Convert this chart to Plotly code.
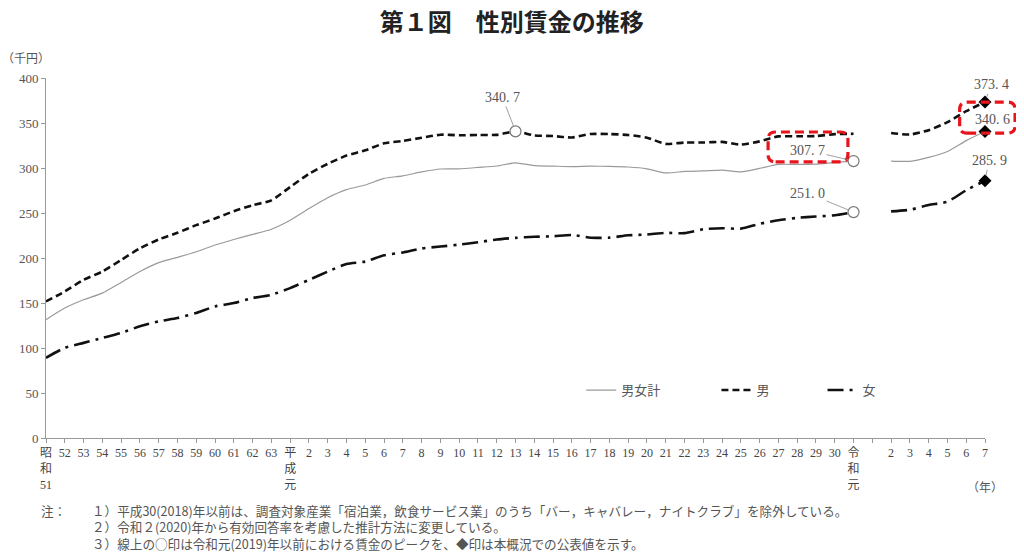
import plotly.graph_objects as go

# x-axis slots: 昭和51 .. 令和7 (one empty slot between 令和元 and 令和2)
labels = (["昭<br>和<br>51"] + [str(n) for n in range(52, 64)]
          + ["平<br>成<br>元"] + [str(n) for n in range(2, 31)]
          + ["令<br>和<br>元", ""] + [str(n) for n in range(2, 8)])

# 男女計 (thousand yen)
total = [131.5, 144.4, 153.6, 161.0, 172.7, 184.9, 194.8, 200.7, 207.0, 214.4,
         220.6, 226.2, 232.0, 242.0, 254.9, 267.0, 276.0, 281.1, 288.4, 291.3,
         295.6, 298.9, 299.1, 300.6, 302.2, 305.8, 302.6, 302.1, 301.6, 302.0,
         301.8, 301.1, 299.1, 294.5, 296.2, 296.8, 297.7, 295.7, 299.6, 304.0,
         304.0, 304.3, 306.2, 307.7, None, 307.7, 307.4, 311.8, 318.3, 330.4,
         340.6]
# 男
male = [151.7, 162.8, 175.7, 184.9, 197.8, 210.7, 220.6, 228.0, 236.5, 243.8,
        252.0, 258.6, 264.1, 278.8, 293.6, 304.6, 313.8, 319.6, 327.4, 330.0,
        333.6, 337.0, 336.4, 336.7, 336.8, 340.7, 336.2, 335.5, 333.9, 337.8,
        337.7, 336.7, 333.7, 326.8, 328.3, 328.3, 329.0, 326.0, 329.6, 335.1,
        335.2, 335.5, 337.6, 338.0, None, 338.8, 337.2, 342.0, 350.9, 363.1,
        373.4]
# 女
female = [89.1, 100.2, 105.7, 111.2, 116.8, 124.1, 129.6, 133.3, 138.9, 146.2,
          149.9, 155.5, 159.1, 166.5, 175.7, 184.9, 193.4, 196.0, 203.0, 206.2,
          210.6, 212.7, 214.9, 217.5, 220.6, 222.4, 223.6, 224.2, 225.6, 222.5,
          222.6, 225.2, 226.1, 228.0, 227.6, 231.9, 233.1, 232.6, 238.0, 242.0,
          244.6, 246.1, 247.5, 251.0, None, 251.8, 253.6, 258.9, 262.6, 275.3,
          285.9]

xs = list(range(len(labels)))

# peaks up to 令和元 (circles) and latest values (diamonds)
peak_x = [25, 43, 43]
peak_y = [male[25], total[43], female[43]]
latest_x = [50, 50, 50]
latest_y = [male[50], total[50], female[50]]

SERIF = "Liberation Serif, Noto Sans CJK JP, serif"
JP = "Noto Sans CJK JP, sans-serif"
GRAY = "#555555"

fig = go.Figure()
fig.add_trace(go.Scatter(x=xs, y=total, name="男女計", mode="lines", legend="legend",
                         line=dict(color="#9a9a9a", width=1.2, shape="spline", smoothing=0.6)))
fig.add_trace(go.Scatter(x=xs, y=male, name="男", mode="lines", legend="legend2",
                         line=dict(color="#111111", width=2.6, dash="7px,4px", shape="spline", smoothing=0.6)))
fig.add_trace(go.Scatter(x=xs, y=female, name="女", mode="lines", legend="legend3",
                         line=dict(color="#111111", width=2.6, dash="16px,6px,3px,6px", shape="spline", smoothing=0.6)))
fig.add_trace(go.Scatter(x=peak_x, y=peak_y, mode="markers", showlegend=False, cliponaxis=False,
                         marker=dict(symbol="circle", size=11, color="white",
                                     line=dict(color="#777777", width=1.2))))
fig.add_trace(go.Scatter(x=latest_x, y=latest_y, mode="markers", showlegend=False, cliponaxis=False,
                         marker=dict(symbol="diamond", size=10, color="black")))

# value labels with leader lines
notes_pts = [
    (25, male[25], "340. 7", -13, -34),
    (43, total[43], "307. 7", -46, -11),
    (43, female[43], "251. 0", -46, -19),
    (50, male[50], "373. 4", 6, -17),
    (50, total[50], "340. 6", 7, -12),
    (50, female[50], "285. 9", 4, -20),
]
for x, y, t, ax, ay in notes_pts:
    fig.add_annotation(x=x, y=y, text=t, showarrow=True, arrowhead=0, arrowwidth=0.8,
                       arrowcolor="#888888", ax=ax, ay=ay, standoff=5,
                       font=dict(family=SERIF, size=14, color=GRAY))


def rounded_box(x0, y0, x1, y1, rx=0.008, ry=0.02):
    return (f"M {x0+rx},{y0} L {x1-rx},{y0} Q {x1},{y0} {x1},{y0+ry} "
            f"L {x1},{y1-ry} Q {x1},{y1} {x1-rx},{y1} L {x0+rx},{y1} "
            f"Q {x0},{y1} {x0},{y1-ry} L {x0},{y0+ry} Q {x0},{y0} {x0+rx},{y0} Z")


for box in [(0.769, 0.767, 0.854, 0.850), (0.973, 0.847, 1.032, 0.933)]:
    fig.add_shape(type="path", xref="paper", yref="paper", path=rounded_box(*box),
                  line=dict(color="#e8141c", width=3.2, dash="9px,5px"))

fig.add_annotation(xref="paper", yref="paper", x=-0.021, y=1.056, xanchor="center", yanchor="middle",
                   text="（千円）", showarrow=False, font=dict(family=JP, size=12, color=GRAY))
fig.add_annotation(xref="paper", yref="paper", x=1.0, y=-0.136, xanchor="center", yanchor="middle",
                   text="（年）", showarrow=False, font=dict(family=JP, size=12, color=GRAY))

fig.add_annotation(xref="paper", yref="paper", x=-0.007, y=-0.169, xanchor="left", yanchor="top",
                   text="注：", showarrow=False, font=dict(family=JP, size=12.6, color=GRAY))
foot = [
    "１）平成30(2018)年以前は、調査対象産業「宿泊業，飲食サービス業」のうち「バー，キャバレー，ナイトクラブ」を除外している。",
    "２）令和２(2020)年から有効回答率を考慮した推計方法に変更している。",
    "３）線上の○印は令和元(2019)年以前における賃金のピークを、◆印は本概況での公表値を示す。",
]
fig.add_annotation(xref="paper", yref="paper", x=0.047, y=-0.169, xanchor="left", yanchor="top",
                   align="left", text="<br>".join(foot), showarrow=False,
                   font=dict(family=JP, size=12.6, color=GRAY))

legend_common = dict(orientation="h", y=0.133, xanchor="left", yanchor="middle",
                     font=dict(family=JP, size=13, color=GRAY), bgcolor="rgba(0,0,0,0)",
                     itemwidth=30)

# the page adds an 8px body margin, so margins are shifted by 8px
fig.update_layout(
    width=1024, height=555,
    margin=dict(l=38, r=47, t=70, b=125, autoexpand=False),
    paper_bgcolor="white", plot_bgcolor="white",
    title=dict(text="<b>第１図　性別賃金の推移</b>", x=0.492, xanchor="center", y=0.973, yanchor="middle",
               font=dict(family=JP, size=24, color="#222222")),
    legend=dict(x=0.570, **legend_common),
    legend2=dict(x=0.714, **legend_common),
    legend3=dict(x=0.827, **legend_common),
    xaxis=dict(range=[0, 50], tickmode="array", tickvals=xs, ticktext=labels,
               showgrid=False, zeroline=False, showline=True, linecolor="#999999", linewidth=1,
               ticks="outside", ticklen=4, tickcolor="#999999", automargin=False,
               tickfont=dict(family=SERIF, size=12, color="#444444")),
    yaxis=dict(range=[0, 400], tickvals=list(range(0, 401, 50)),
               showgrid=False, zeroline=False, showline=True, linecolor="#999999", linewidth=1,
               ticks="outside", ticklen=4, tickcolor="#999999", automargin=False,
               tickfont=dict(family=SERIF, size=13, color=GRAY)),
)

fig.write_html("out.html")
